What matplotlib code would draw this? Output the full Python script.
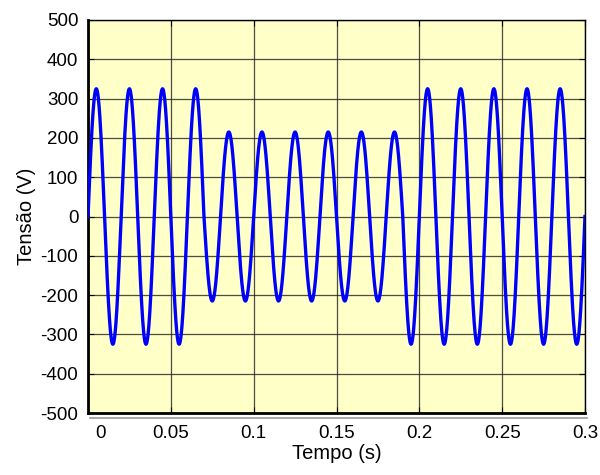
import numpy as np
import matplotlib
matplotlib.use("Agg")
import matplotlib.pyplot as plt
from matplotlib.transforms import ScaledTranslation

plt.rcParams['font.family'] = ['Liberation Sans', 'DejaVu Sans']
plt.rcParams['axes.unicode_minus'] = False

# Data
freq_hz = 50
seg_start = [0.0, 0.07, 0.19]
seg_end = [0.07, 0.19, 0.30]
seg_amp = [325, 215, 325]
x_ticks = [0, 0.05, 0.1, 0.15, 0.2, 0.25, 0.3]
x_ticklabels = ['0', '0.05', '0.1', '0.15', '0.2', '0.25', '0.3']
y_ticks = list(range(-500, 501, 100))

t_parts, v_parts = [], []
for s, e, a in zip(seg_start, seg_end, seg_amp):
    t = np.linspace(s, e, 800)
    t_parts.append(t)
    v_parts.append(a * np.sin(2 * np.pi * freq_hz * t))
t_all = np.concatenate(t_parts)
v_all = np.concatenate(v_parts)

fig = plt.figure(figsize=(6, 4.75), dpi=100)
ax = fig.add_axes([88/600, 1 - 413/475, (585 - 88)/600, (413 - 20)/475])
ax.set_facecolor('#FFFFC8')

ax.plot(t_all, v_all, color='#0000FF', lw=2.4, zorder=3)

ax.set_xlim(0, 0.3)
ax.set_ylim(-500, 500)
ax.set_xticks(x_ticks)
ax.set_xticklabels(x_ticklabels)
ax.set_yticks(y_ticks)
ax.grid(True, color='#202020', lw=0.9, alpha=0.8)
ax.set_axisbelow(True)
ax.tick_params(direction='in', length=4, labelsize=13.5, colors='black',
               top=True, right=True)
ax.tick_params(axis='y', pad=7)
ax.tick_params(axis='x', pad=9)
for sp in ax.spines.values():
    sp.set_color('black')
    sp.set_linewidth(1.0)
ax.spines['left'].set_linewidth(2.0)
ax.spines['bottom'].set_linewidth(2.0)

# shift first x tick label right like in the reference
lbl0 = ax.get_xticklabels()[0]
lbl0.set_transform(lbl0.get_transform() + ScaledTranslation(12/100, 0, fig.dpi_scale_trans))

# gray shadow line below x axis
fig.add_artist(plt.Line2D([90/600, 587/600], [1 - 418/475, 1 - 418/475],
                          color='#999999', lw=1.2))

ax.set_xlabel('Tempo (s)', fontsize=14.5, labelpad=1)
ax.set_ylabel('Tensão (V)', fontsize=14.5, labelpad=3)

fig.savefig('out.png', dpi=100)
